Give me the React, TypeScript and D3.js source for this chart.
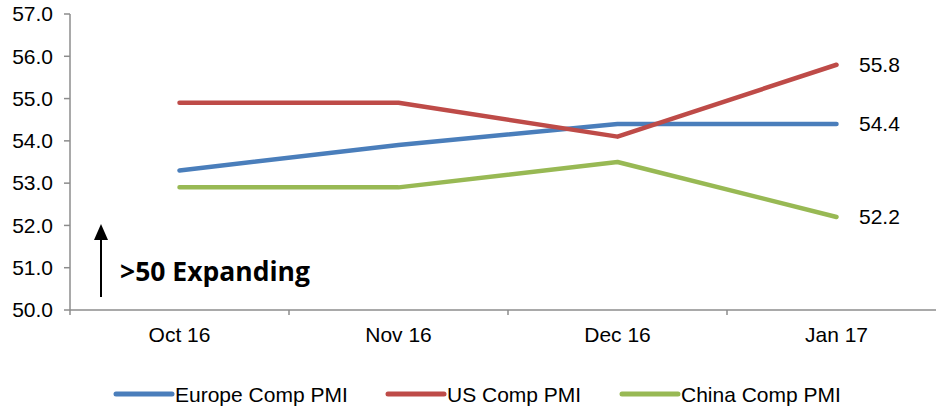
import React from "react";
import * as d3 from "d3";

const categories = ["Oct 16", "Nov 16", "Dec 16", "Jan 17"];
const europe = [53.3, 53.9, 54.4, 54.4];
const us = [54.9, 54.9, 54.1, 55.8];
const china = [52.9, 52.9, 53.5, 52.2];
const yTicks = [50, 51, 52, 53, 54, 55, 56, 57];

const seriesNames = ["Europe Comp PMI", "US Comp PMI", "China Comp PMI"];
const seriesColors = ["#4A7EBB", "#BE4B48", "#98B954"];

const W = 936;
const H = 408;
const AXIS = "#8c8c8c";
const FONT = "'Liberation Sans', Arial, sans-serif";
const FS = 21;

export default function App() {
  const x = d3.scaleBand<string>().domain(categories).range([70, 946]).padding(0);
  const y = d3.scaleLinear().domain([50, 57]).range([310, 14]);
  const cx = (c: string) => (x(c) as number) + x.bandwidth() / 2;

  const series = [europe, us, china];
  const line = d3
    .line<number>()
    .x((_, i) => cx(categories[i]))
    .y((d) => y(d));

  const boundaries = d3.range(0, categories.length + 1).map((i) => 70 + i * x.bandwidth());

  const legendX = [116, 388, 622];

  return (
    <svg
      width={W}
      height={H}
      style={{ position: "absolute", left: 0, top: 0, background: "#fff" }}
      fontFamily={FONT}
    >
      {/* y axis */}
      <line x1={70} x2={70} y1={y(57)} y2={y(50)} stroke={AXIS} strokeWidth={1.5} />
      {yTicks.map((t) => (
        <g key={t}>
          <line x1={64} x2={70} y1={y(t)} y2={y(t)} stroke={AXIS} strokeWidth={1.5} />
          <text x={53} y={y(t)} dy="0.35em" textAnchor="end" fontSize={FS} fill="#000">
            {t.toFixed(1)}
          </text>
        </g>
      ))}

      {/* x axis */}
      <line x1={70} x2={W} y1={y(50)} y2={y(50)} stroke={AXIS} strokeWidth={1.5} />
      {boundaries.map((b, i) => (
        <line key={i} x1={b} x2={b} y1={y(50)} y2={y(50) + 5} stroke={AXIS} strokeWidth={1.5} />
      ))}
      {categories.map((c) => (
        <text key={c} x={cx(c)} y={342} textAnchor="middle" fontSize={FS} fill="#000">
          {c}
        </text>
      ))}

      {/* series lines */}
      {series.map((s, i) => (
        <path
          key={seriesNames[i]}
          d={line(s) as string}
          fill="none"
          stroke={seriesColors[i]}
          strokeWidth={4.5}
          strokeLinecap="round"
          strokeLinejoin="round"
        />
      ))}

      {/* end value labels */}
      {series.map((s, i) => {
        const v = s[s.length - 1];
        return (
          <text key={"lbl" + i} x={859} y={y(v)} dy="0.35em" fontSize={FS} fill="#000">
            {v.toFixed(1)}
          </text>
        );
      })}

      {/* expansion annotation */}
      <line x1={101} x2={101} y1={297} y2={236} stroke="#000" strokeWidth={2} />
      <path d="M101,224 L108,240 L94,240 Z" fill="#000" />
      <text
        x={120}
        y={281}
        fontFamily="'Open Sans', Carlito, Calibri, sans-serif"
        fontWeight={700}
        fontSize={26.5}
        fill="#000"
      >
        {">50 Expanding"}
      </text>

      {/* legend */}
      {seriesNames.map((n, i) => (
        <g key={"leg" + n}>
          <line
            x1={legendX[i]}
            x2={legendX[i] + 56}
            y1={394}
            y2={394}
            stroke={seriesColors[i]}
            strokeWidth={5}
            strokeLinecap="round"
          />
          <text x={legendX[i] + 59} y={401.5} fontSize={FS} fill="#000">
            {n}
          </text>
        </g>
      ))}
    </svg>
  );
}
